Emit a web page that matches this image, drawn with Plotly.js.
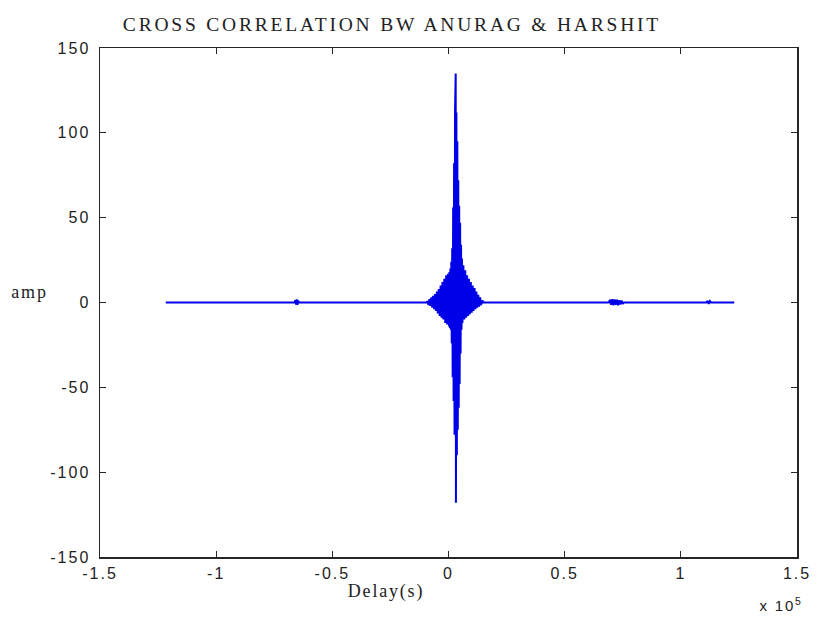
<!DOCTYPE html>
<html>
<head>
<meta charset="utf-8">
<script src="https://cdn.plot.ly/plotly-3.0.1.min.js"></script>
<style>
html,body{margin:0;padding:0;background:#fff;}
#chart{width:820px;height:624px;}
#chart .xtick text, #chart .ytick text { letter-spacing: 2px; }
#chart text.gtitle { letter-spacing: 2.8px; }
#chart .annotation-text { letter-spacing: 1.8px; }
</style>
</head>
<body>
<div id="chart"></div>
<script>
// Delay in samples, cross-correlation amplitude
var delayLeft = [-121700, -90000, -66200, -65900, -65600, -65300, -65000, -64700, -64400, -40000, -20000, -9400];
var ampLeft   = [0, 0, 0, 1.4, -1.2, 1.8, -1.4, 1.2, 0, 0, 0, 0];

var delayCore = [-9000, -8600, -8200, -7800, -7400, -7000, -6600, -6200, -5800, -5400, -5000, -4600, -4200, -3800, -3400, -3000, -2600, -2200, -1800, -1400, -1000, -600, -200, 200, 400, 600, 800, 1000, 1200, 1400, 1600, 1800, 2000, 2200, 2400, 2600, 2800, 3000, 3100, 3200, 3400, 3600, 3800, 4000, 4200, 4400, 4600, 4800, 5000, 5200, 5400, 5600, 5800, 6000, 6400, 6800, 7200, 7600, 8000, 8400, 8800, 9200, 9600, 10000, 10400, 10800, 11200, 11600, 12000, 12400, 12800, 13200, 13600, 14000, 14600, 15000];
var ampCore   = [0.8, -1.5, 2, -2, 3, -3, 4, -4, 5, -5, 6.5, -6.5, 8, -8, 10, -9, 12, -10, 14, -12, 16, -13, 17, -14, 18, -15, 20, -16, 24, -24, 32, -44, 56, -58, 82, -78, 112, -100, 135, -118, 112, -90, 95, -75, 72, -62, 57, -48, 47, -30, 34, -16, 26, -12, 22, -10, 19, -9, 16, -8, 14, -7, 12, -6, 10, -5, 8.5, -4, 6.5, -3, 4.5, -2.5, 3, -1.5, 1.2, 0];

var delayRight = [15400, 40000, 69000, 69500, 70000, 70500, 71000, 71500, 72000, 72500, 73000, 73500, 74000, 74500, 75000, 75500, 90000, 111000, 111500, 112000, 112500, 113000, 123000];
var ampRight   = [0, 0, 0, 1.6, -1.4, 2.0, -1.6, 1.8, -1.4, 1.6, -1.6, 1.3, -1.1, 1.2, -0.8, 0, 0, 0, 1.0, -0.8, 0.8, 0, 0];

var xTickVals = [-150000, -100000, -50000, 0, 50000, 100000, 150000];
var xTickText = ['-1.5', '-1', '-0.5', '0', '0.5', '1', '1.5'];
var yTickVals = [-150, -100, -50, 0, 50, 100, 150];
var yTickText = ['-150', '-100', '-50', '0', '50', '100', '150'];

var delay = delayLeft.concat(delayCore, delayRight);
var amp = ampLeft.concat(ampCore, ampRight);

var trace = {
  x: delay, y: amp, type: 'scatter', mode: 'lines',
  line: {color: '#0000e8', width: 2},
  hoverinfo: 'skip'
};

var axisCommon = {
  showline: true, mirror: 'allticks', linecolor: '#262626', linewidth: 1.5,
  ticks: 'inside', ticklen: 6, tickwidth: 1.2, tickcolor: '#262626',
  showgrid: false, zeroline: false,
  tickfont: {family: 'Liberation Sans, Arial, sans-serif', size: 16, color: '#222'},
  tickmode: 'array'
};

var layout = {
  width: 820, height: 624,
  margin: {l: 100, r: 23, t: 48, b: 67},
  paper_bgcolor: '#ffffff', plot_bgcolor: '#ffffff',
  showlegend: false,
  title: {
    text: 'CROSS CORRELATION BW ANURAG &amp; HARSHIT',
    font: {family: 'Liberation Serif, Times New Roman, serif', size: 19.5, color: '#222'},
    xref: 'container', x: 0.478, xanchor: 'center',
    yref: 'container', y: 0.962, yanchor: 'middle'
  },
  xaxis: Object.assign({}, axisCommon, {
    range: [-150000, 150000], tickvals: xTickVals, ticktext: xTickText, ticklabelstandoff: 1
  }),
  yaxis: Object.assign({}, axisCommon, {
    range: [-150, 150], tickvals: yTickVals, ticktext: yTickText, ticklabelstandoff: 5
  }),
  annotations: [
    {text: 'Delay(s)', xref: 'paper', yref: 'paper', x: 0.41, y: -0.068, xanchor: 'center', yanchor: 'middle', showarrow: false,
     font: {family: 'Liberation Serif, Times New Roman, serif', size: 18, color: '#222'}},
    {text: 'amp', xref: 'paper', yref: 'paper', x: -0.101, y: 0.52, xanchor: 'center', yanchor: 'middle', showarrow: false,
     font: {family: 'Liberation Serif, Times New Roman, serif', size: 18, color: '#222'}},
    {text: 'x 10<sup>5</sup>', xref: 'paper', yref: 'paper', x: 1.004, y: -0.093, xanchor: 'right', yanchor: 'middle', showarrow: false,
     font: {family: 'Liberation Sans, Arial, sans-serif', size: 15, color: '#222'}}
  ]
};

Plotly.newPlot('chart', [trace], layout, {displayModeBar: false, staticPlot: true});
</script>
</body>
</html>
